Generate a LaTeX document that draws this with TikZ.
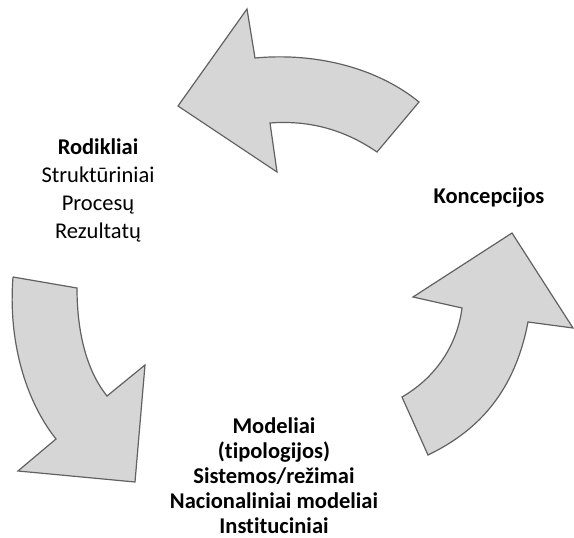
\documentclass[tikz,border=0pt]{standalone}
\usepackage{fontspec}
\setmainfont[Ligatures=NoCommon]{Carlito}
\usepackage{tikz}
\usetikzlibrary{%
	calc%
}
\tikzset{
	bigarrow/.style={fill=black!16,draw=black!62,line width=1.2pt,line join=miter},
	lbl/.style={align=center,inner sep=0pt,anchor=base,font=\fontsize{22.5}{28}\selectfont}
}

\begin{document}
\begin{tikzpicture}[x=1pt,y=-1pt]
			\useasboundingbox (0,0) rectangle (574,538);
			% upper arrow
			\draw[bigarrow] (178,106) -- (247,9) -- (255,58)
			.. controls (320,52) and (380,70) .. (419,102) -- (377,152)
			.. controls (345,130) and (310,120) .. (270,123) -- (277,172) -- cycle;
			% right arrow
			\draw[bigarrow] (512,233) -- (573,328) -- (528,322)
			.. controls (515,390) and (480,430) .. (428,455) -- (402,397)
			.. controls (440,375) and (458,340) .. (462,308) -- (413,297) -- cycle;
			% left arrow
			\draw[bigarrow] (13,277) -- (77,288)
			.. controls (77,340) and (90,375) .. (107,396) -- (145,365) -- (135,482)
			-- (18,471) -- (56,439) .. controls (25,400) and (8,340) .. (13,277);
			% labels, anchored at the baseline of their last line
			\node[lbl] (rod) at (98,238) {\textbf{Rodikliai}\\Struktūriniai\\Procesų\\Rezultatų};
			\node[lbl,font=\fontsize{22.5}{28}\selectfont\bfseries] (konc) at (489,203) {Koncepcijos};
			\node[lbl,font=\fontsize{22.5}{25}\selectfont\bfseries] (mod) at (274,533)
			{Modeliai\\(tipologijos)\\Sistemos/režimai\\Nacionaliniai modeliai\\Instituciniai};
		\end{tikzpicture}
\end{document}
